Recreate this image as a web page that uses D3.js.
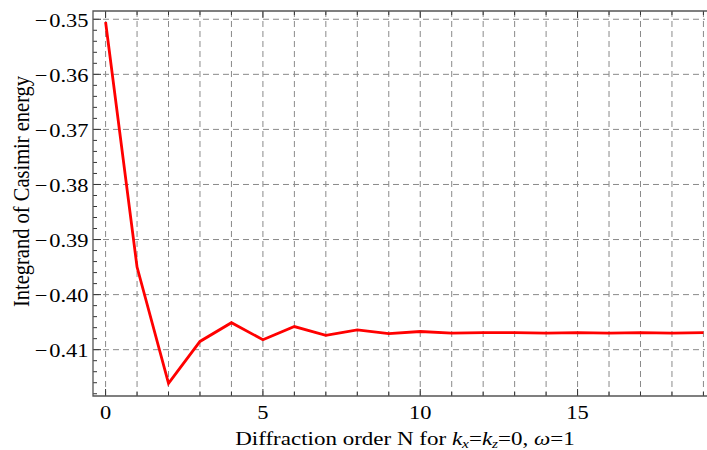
<!DOCTYPE html>
<html>
<head>
<meta charset="utf-8">
<script src="https://cdn.jsdelivr.net/npm/d3@7"></script>
<style>
  body { margin: 0; background: #fff; }
</style>
</head>
<body>
<svg id="chart" width="707" height="450"></svg>
<script>
// diffraction orders N and integrand values
const orders = d3.range(0, 20);
const integrand = [
  -0.3505, -0.3950, -0.4161, -0.4085, -0.4051, -0.4082, -0.4058, -0.4074,
  -0.4064, -0.4071, -0.4067, -0.4070, -0.4069, -0.4069, -0.4070, -0.4069,
  -0.4070, -0.4069, -0.4070, -0.4069
];
const xMajorTicks = [0, 5, 10, 15];
const yMajorTicks = [-0.35, -0.36, -0.37, -0.38, -0.39, -0.40, -0.41];

const FONT = '"Liberation Serif", "Times New Roman", serif';
const STRETCH = 1.15; // glyphs in the reference are a bit wider than tall

const svg = d3.select('#chart');
const margin = { top: 11, right: 2, bottom: 54, left: 93 };
const width = 707 - margin.left - margin.right;
const height = 450 - margin.top - margin.bottom;

const x = d3.scaleLinear().domain([-0.4, 19.05]).range([0, width]);
const y = d3.scaleLinear().domain([-0.41841, -0.3485]).range([height, 0]);

const g = svg.append('g').attr('transform', `translate(${margin.left},${margin.top})`);

// grid (dashed)
g.append('g')
  .selectAll('line')
  .data(orders)
  .enter()
  .append('line')
  .attr('x1', (d) => x(d)).attr('x2', (d) => x(d))
  .attr('y1', 0).attr('y2', height)
  .attr('stroke', '#8a8a8a')
  .attr('stroke-dasharray', '6,4');

g.append('g')
  .selectAll('line')
  .data(yMajorTicks)
  .enter()
  .append('line')
  .attr('x1', 0).attr('x2', width)
  .attr('y1', (d) => y(d)).attr('y2', (d) => y(d))
  .attr('stroke', '#8a8a8a')
  .attr('stroke-dasharray', '6,4');

// minor y ticks every 0.002
const yMinor = d3.range(-0.418, -0.3484, 0.002).map((v) => +v.toFixed(3));
const fmtY = (d) => d3.format('.2f')(d).replace('-', '\u2212');

g.append('g')
  .selectAll('line')
  .data(yMinor)
  .enter()
  .append('line')
  .attr('x1', 0)
  .attr('x2', (d) => (yMajorTicks.some((m) => Math.abs(m - d) < 1e-6) ? 8 : 4))
  .attr('y1', (d) => y(d)).attr('y2', (d) => y(d))
  .attr('stroke', '#333');

// y tick labels
g.append('g')
  .selectAll('text')
  .data(yMajorTicks)
  .enter()
  .append('text')
  .attr('transform', (d) => `translate(-4.5,${y(d)}) scale(${STRETCH},1)`)
  .attr('dy', '0.38em')
  .attr('text-anchor', 'end')
  .style('font-family', FONT)
  .style('font-size', '19.5px')
  .text((d) => fmtY(d).replace('\u2212', '\u2212\u200a'));

// bottom ticks + labels
g.append('g')
  .selectAll('line')
  .data(orders)
  .enter()
  .append('line')
  .attr('x1', (d) => x(d)).attr('x2', (d) => x(d))
  .attr('y1', height)
  .attr('y2', (d) => height - (xMajorTicks.includes(d) ? 7 : 4))
  .attr('stroke', '#333');

g.append('g')
  .selectAll('text')
  .data(xMajorTicks)
  .enter()
  .append('text')
  .attr('transform', (d) => `translate(${x(d)},${height + 22.5}) scale(${STRETCH},1)`)
  .attr('text-anchor', 'middle')
  .style('font-family', FONT)
  .style('font-size', '19.5px')
  .text((d) => d3.format('d')(d));

// top ticks
g.append('g')
  .selectAll('line')
  .data(orders)
  .enter()
  .append('line')
  .attr('x1', (d) => x(d)).attr('x2', (d) => x(d))
  .attr('y1', 0)
  .attr('y2', (d) => (xMajorTicks.includes(d) ? 7 : 4))
  .attr('stroke', '#333');

// frame
g.append('path')
  .attr('d', `M${width + 2},0H0V${height}H${width + 2}`)
  .attr('fill', 'none')
  .attr('stroke', '#555')
  .attr('stroke-width', 1.3);

// data line
const line = d3.line()
  .x((d, i) => x(orders[i]))
  .y((d) => y(d));

g.append('path')
  .datum(integrand)
  .attr('d', line)
  .attr('fill', 'none')
  .attr('stroke', '#ff0000')
  .attr('stroke-width', 2.8)
  .attr('stroke-linejoin', 'miter');

// axis labels
svg.append('text')
  .attr('transform', `translate(29,191.5) scale(${STRETCH},1) rotate(-90)`)
  .attr('text-anchor', 'middle')
  .style('font-family', FONT)
  .style('font-size', '20.5px')
  .text('Integrand of Casimir energy');

const xl = svg.append('text')
  .attr('transform', `translate(405,445) scale(1.18,1)`)
  .attr('text-anchor', 'middle')
  .style('font-family', FONT)
  .style('font-size', '19.5px');
xl.append('tspan').text('Diffraction order N for ');
xl.append('tspan').style('font-style', 'italic').text('k');
xl.append('tspan').style('font-style', 'italic').style('font-size', '13px').attr('dy', 2.5).text('x');
xl.append('tspan').attr('dy', -2.5).text('=');
xl.append('tspan').style('font-style', 'italic').text('k');
xl.append('tspan').style('font-style', 'italic').style('font-size', '13px').attr('dy', 2.5).text('z');
xl.append('tspan').attr('dy', -2.5).text('=0, ');
xl.append('tspan').style('font-style', 'italic').text('\u03c9');
xl.append('tspan').text('=1');
</script>
</body>
</html>
